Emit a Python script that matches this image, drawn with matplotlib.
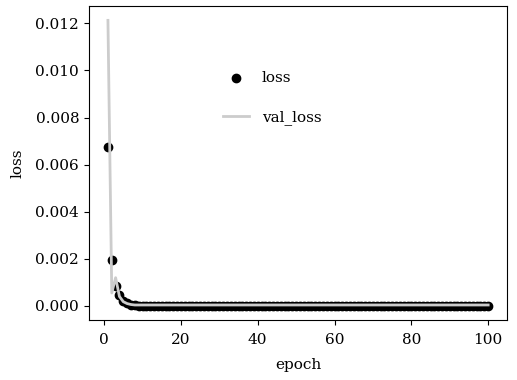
import numpy as np
import matplotlib
matplotlib.use("Agg")
import matplotlib.pyplot as plt

plt.rcParams['font.family'] = ['DejaVu Serif']
plt.rcParams['font.size'] = 11

# training history
epoch = list(range(1, 101))
loss = [0.00675, 0.00197, 0.00085, 0.00045, 0.00020, 0.00012, 0.00005, 0.00002, 0.00001, 0.00001,
        0.00001, 0.00001, 0.00001, 0.00001, 0.00001, 0.00001, 0.00001, 0.00001, 0.00001, 0.00001,
        0.00001, 0.00001, 0.00001, 0.00001, 0.00001, 0.00001, 0.00001, 0.00001, 0.00001, 0.00001,
        0.00001, 0.00001, 0.00001, 0.00001, 0.00001, 0.00001, 0.00001, 0.00001, 0.00001, 0.00001,
        0.00001, 0.00001, 0.00001, 0.00001, 0.00001, 0.00001, 0.00001, 0.00001, 0.00001, 0.00001,
        0.00001, 0.00001, 0.00001, 0.00001, 0.00001, 0.00001, 0.00001, 0.00001, 0.00001, 0.00001,
        0.00001, 0.00001, 0.00001, 0.00001, 0.00001, 0.00001, 0.00001, 0.00001, 0.00001, 0.00001,
        0.00001, 0.00001, 0.00001, 0.00001, 0.00001, 0.00001, 0.00001, 0.00001, 0.00001, 0.00001,
        0.00001, 0.00001, 0.00001, 0.00001, 0.00001, 0.00001, 0.00001, 0.00001, 0.00001, 0.00001,
        0.00001, 0.00001, 0.00001, 0.00001, 0.00001, 0.00001, 0.00001, 0.00001, 0.00001, 0.00001]
val_loss = [0.01213, 0.00055, 0.00120, 0.00040, 0.00018, 0.00010, 0.00006, 0.00004, 0.00004, 0.00004,
            0.00004, 0.00004, 0.00004, 0.00004, 0.00004, 0.00004, 0.00004, 0.00004, 0.00004, 0.00004,
            0.00004, 0.00004, 0.00004, 0.00004, 0.00004, 0.00004, 0.00004, 0.00004, 0.00004, 0.00004,
            0.00004, 0.00004, 0.00004, 0.00004, 0.00004, 0.00004, 0.00004, 0.00004, 0.00004, 0.00004,
            0.00004, 0.00004, 0.00004, 0.00004, 0.00004, 0.00004, 0.00004, 0.00004, 0.00004, 0.00004,
            0.00004, 0.00004, 0.00004, 0.00004, 0.00004, 0.00004, 0.00004, 0.00004, 0.00004, 0.00004,
            0.00004, 0.00004, 0.00004, 0.00004, 0.00004, 0.00004, 0.00004, 0.00004, 0.00004, 0.00004,
            0.00004, 0.00004, 0.00004, 0.00004, 0.00004, 0.00004, 0.00004, 0.00004, 0.00004, 0.00004,
            0.00004, 0.00004, 0.00004, 0.00004, 0.00004, 0.00004, 0.00004, 0.00004, 0.00004, 0.00004,
            0.00004, 0.00004, 0.00004, 0.00004, 0.00004, 0.00004, 0.00004, 0.00004, 0.00004, 0.00004]

fig = plt.figure(figsize=(5.17, 3.8), dpi=100)
ax = fig.add_axes([0.172, 0.158, 0.809, 0.826])

ax.scatter(epoch, loss, s=36, color='black', label='loss', zorder=2)
ax.plot(epoch, val_loss, color='#cccccc', linewidth=2, label='val_loss', zorder=3)

ax.set_xlabel('epoch', labelpad=8)
ax.set_ylabel('loss', labelpad=8)
ax.tick_params(axis='x', pad=6)
ax.set_yticks([0.0, 0.002, 0.004, 0.006, 0.008, 0.010, 0.012])
ax.set_yticklabels(['0.000', '0.002', '0.004', '0.006', '0.008', '0.010', '0.012'])

ax.legend(frameon=False, loc='upper left', bbox_to_anchor=(0.307, 0.814),
          borderaxespad=0, labelspacing=1.7, handlelength=1.7)

fig.savefig('out.png', dpi=100)
